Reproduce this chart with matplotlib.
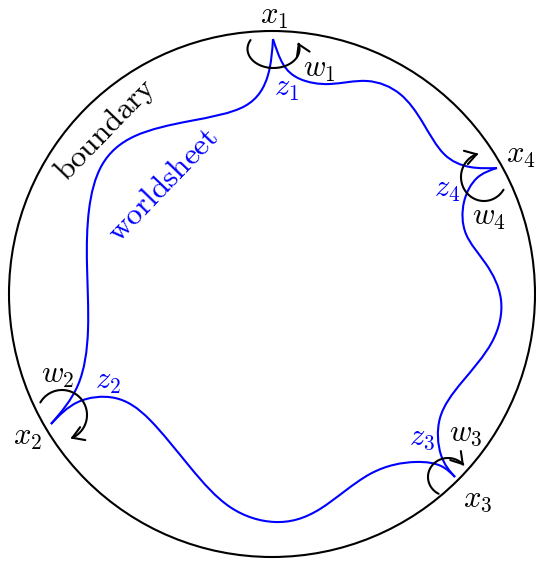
import numpy as np
import matplotlib.pyplot as plt
from matplotlib.path import Path
from matplotlib.patches import Circle, FancyArrowPatch, PathPatch

plt.rcParams['mathtext.fontset'] = 'cm'
plt.rcParams['font.family'] = 'serif'

# boundary circle (pixel coords, y down)
CIRCLE_CENTER = (272, 294)
CIRCLE_RADIUS = 263

# worldsheet pieces, cusp to cusp
seg_z1_z2 = [(273, 39), (268, 75), (245, 106), (190, 121), (135, 136), (102, 165),
             (89, 210), (87, 265), (88, 330), (78, 385), (51, 424)]
seg_z2_z3 = [(51, 424), (78, 402), (115, 398), (150, 420), (190, 467), (230, 507),
             (275, 522), (320, 509), (370, 474), (415, 462), (441, 466), (455, 477)]
seg_z3_z4 = [(455, 477), (441, 455), (440, 418), (462, 382), (492, 342), (501, 300),
             (486, 264), (466, 234), (464, 202), (477, 178), (497, 168)]
seg_z4_z1 = [(497, 168), (470, 167), (444, 154), (423, 123), (400, 94), (367, 81),
             (330, 84), (300, 79), (283, 64), (273, 39)]

# arrows around the cusps: centre, rx, ry, start angle, end angle (deg)
arrows = [
    ((273.5, 49), 26, 19, 152, 380),
    ((484, 177), 23, 24, -32, -256),
    ((62, 415), 25, 25, 150, -70),
    ((448, 477), 20, 19, -118, -323),
]

labels = [
    (r'$x_1$', 274, 15, 'black'),
    (r'$w_1$', 319, 68, 'black'),
    (r'$z_1$', 287, 87, 'blue'),
    (r'$x_4$', 521, 155, 'black'),
    (r'$z_4$', 447, 188, 'blue'),
    (r'$w_4$', 489, 216, 'black'),
    (r'$w_2$', 58, 375, 'black'),
    (r'$z_2$', 108, 381, 'blue'),
    (r'$x_2$', 28, 436, 'black'),
    (r'$z_3$', 422, 437, 'blue'),
    (r'$w_3$', 466, 432, 'black'),
    (r'$x_3$', 478, 498, 'black'),
]


def smooth_path(pts):
    # C2 cubic Bezier spline through the points (natural ends)
    k = np.array(pts, dtype=float)
    n = len(k) - 1
    a = np.ones(n)
    b = np.full(n, 4.0)
    c = np.ones(n)
    r = 4 * k[:-1] + 2 * k[1:]
    b[0], c[0] = 2.0, 1.0
    r[0] = k[0] + 2 * k[1]
    a[-1], b[-1] = 2.0, 7.0
    r[-1] = 8 * k[n - 1] + k[n]
    # Thomas algorithm
    for i in range(1, n):
        m = a[i] / b[i - 1]
        b[i] -= m * c[i - 1]
        r[i] -= m * r[i - 1]
    p1 = np.zeros_like(r)
    p1[-1] = r[-1] / b[-1]
    for i in range(n - 2, -1, -1):
        p1[i] = (r[i] - c[i] * p1[i + 1]) / b[i]
    p2 = np.zeros_like(p1)
    p2[:-1] = 2 * k[1:-1] - p1[1:]
    p2[-1] = (k[n] + p1[-1]) / 2
    verts = [k[0]]
    codes = [Path.MOVETO]
    for i in range(n):
        verts += [p1[i], p2[i], k[i + 1]]
        codes += [Path.CURVE4] * 3
    return Path(verts, codes)


fig = plt.figure(figsize=(5.36, 5.63), dpi=100)
ax = fig.add_axes([0, 0, 1, 1])
ax.set_xlim(0, 536)
ax.set_ylim(563, 0)
ax.axis('off')

ax.add_patch(Circle(CIRCLE_CENTER, CIRCLE_RADIUS, fill=False, lw=1.5, color='black'))

for seg in [seg_z1_z2, seg_z2_z3, seg_z3_z4, seg_z4_z1]:
    ax.add_patch(PathPatch(smooth_path(seg), fill=False, lw=1.5, edgecolor='blue'))

for (cx, cy), rx, ry, a0, a1 in arrows:
    t = np.deg2rad(np.linspace(a0, a1, 60))
    verts = np.column_stack([cx + rx * np.cos(t), cy - ry * np.sin(t)])
    arr = FancyArrowPatch(path=Path(verts), arrowstyle='->,head_length=0.4,head_width=0.25',
                          mutation_scale=20, lw=1.5, color='black',
                          shrinkA=0, shrinkB=0)
    ax.add_patch(arr)

for txt, x, y, c in labels:
    ax.text(x, y, txt, color=c, fontsize=22, ha='center', va='center')

ax.text(106, 130, r'$\mathrm{boundary}$', fontsize=22.5, rotation=46,
        ha='center', va='center', rotation_mode='anchor')
ax.text(163, 185, r'$\mathrm{worldsheet}$', fontsize=22.5, rotation=46, color='blue',
        ha='center', va='center', rotation_mode='anchor')

fig.savefig('out.png', dpi=100)
